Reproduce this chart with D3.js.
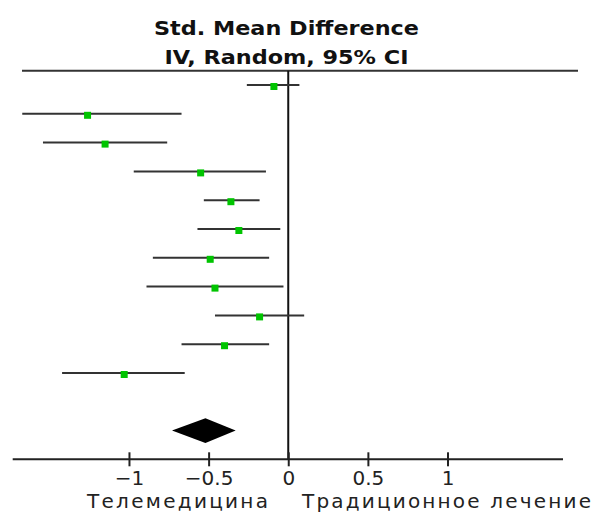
<!DOCTYPE html>
<html>
<head>
<meta charset="utf-8">
<script src="https://cdn.jsdelivr.net/npm/d3@7"></script>
<style>
  html, body { margin: 0; padding: 0; background: #fff; }
  svg { display: block; font-family: "DejaVu Sans", "Noto Sans", sans-serif; }
</style>
</head>
<body>
<div id="chart"></div>
<script>
// ---- Data ----
const studyIndex = [1, 2, 3, 4, 5, 6, 7, 8, 9, 10, 11];
const estimates  = [-0.09, -1.26, -1.15, -0.55, -0.36, -0.31, -0.49, -0.46, -0.18, -0.40, -1.03];
const lowerCI    = [-0.26, -1.67, -1.54, -0.97, -0.53, -0.57, -0.85, -0.89, -0.46, -0.67, -1.42];
const upperCI    = [ 0.07, -0.67, -0.76, -0.14, -0.18, -0.05, -0.12, -0.03,  0.10, -0.12, -0.65];
const pooled     = [-0.73, -0.52, -0.33]; // lower, estimate, upper
const tickValues = [-1, -0.5, 0, 0.5, 1];
const tickLabels = ["\u22121", "\u22120.5", "0", "0.5", "1"];
const titleLines = ["Std. Mean Difference", "IV, Random, 95% CI"];
const leftLabel  = "Телемедицина";
const rightLabel = "Традиционное лечение";

// ---- Layout ----
const W = 595, H = 512;
const svg = d3.select("#chart").append("svg").attr("width", W).attr("height", H);

const x = d3.scaleLinear().domain([-1.73, 1.725]).range([12.7, 563]);
const y = d3.scaleLinear().domain([0, 12]).range([85, 430.6]);
const axisY = 459.3, ruleY = 70.7;

// Title
const titleCfg = [{yy: 34.5, len: 265}, {yy: 63.5, len: 244}];
svg.selectAll("text.title").data(titleLines).join("text")
  .attr("class", "title")
  .attr("x", 286.5)
  .attr("y", (d, i) => titleCfg[i].yy)
  .attr("text-anchor", "middle")
  .attr("font-size", 19.5).attr("font-weight", "bold").attr("fill", "#111")
  .attr("textLength", (d, i) => titleCfg[i].len)
  .attr("lengthAdjust", "spacingAndGlyphs")
  .text(d => d);

// Top rule
svg.append("line").attr("x1", 22).attr("x2", 578).attr("y1", ruleY).attr("y2", ruleY)
  .attr("stroke", "#333").attr("stroke-width", 2);

// Zero line
svg.append("line").attr("x1", x(0)).attr("x2", x(0)).attr("y1", ruleY).attr("y2", axisY)
  .attr("stroke", "#111").attr("stroke-width", 2);

// CI lines
const rows = studyIndex.map((s, i) => ({i, est: estimates[i], lo: lowerCI[i], hi: upperCI[i]}));
svg.selectAll("line.ci").data(rows).join("line")
  .attr("class", "ci")
  .attr("x1", d => x(d.lo)).attr("x2", d => x(d.hi))
  .attr("y1", d => y(d.i)).attr("y2", d => y(d.i))
  .attr("stroke", "#333").attr("stroke-width", 2);

// Squares
const sq = 7;
svg.selectAll("rect.pt").data(rows).join("rect")
  .attr("class", "pt")
  .attr("x", d => x(d.est) - sq / 2)
  .attr("y", d => y(d.i) - sq / 2 + 1.5)
  .attr("width", sq).attr("height", sq)
  .attr("fill", "#00c400");

// Diamond
const dy = y(12);
svg.append("path")
  .attr("d", d3.line()([
    [x(pooled[0]), dy], [x(pooled[1]), dy - 12.3], [x(pooled[2]), dy], [x(pooled[1]), dy + 12.3]
  ]) + "Z")
  .attr("fill", "#000");

// Axis
const axis = d3.axisBottom(x).tickValues(tickValues)
  .tickFormat((d, i) => tickLabels[i]).tickSize(7).tickPadding(0);
const gAxis = svg.append("g").attr("transform", `translate(0,${axisY})`).call(axis);
gAxis.select(".domain").remove();
gAxis.append("line").attr("x1", 12.7).attr("x2", 563).attr("y1", 0).attr("y2", 0)
  .attr("stroke", "#222").attr("stroke-width", 2);
gAxis.selectAll(".tick line").attr("y1", -7).attr("y2", 7).attr("stroke", "#222").attr("stroke-width", 2);
gAxis.selectAll(".tick text")
  .attr("y", 26).attr("dy", 0)
  .attr("font-size", 20).attr("font-family", "DejaVu Sans, sans-serif").attr("fill", "#222");

// Bottom labels
svg.append("text").attr("x", 87).attr("y", 508)
  .attr("font-size", 20).attr("fill", "#222")
  .attr("textLength", 181).attr("lengthAdjust", "spacing")
  .text(leftLabel);
svg.append("text").attr("x", 302).attr("y", 508)
  .attr("font-size", 20).attr("fill", "#222")
  .attr("textLength", 289).attr("lengthAdjust", "spacing")
  .text(rightLabel);
</script>
</body>
</html>
